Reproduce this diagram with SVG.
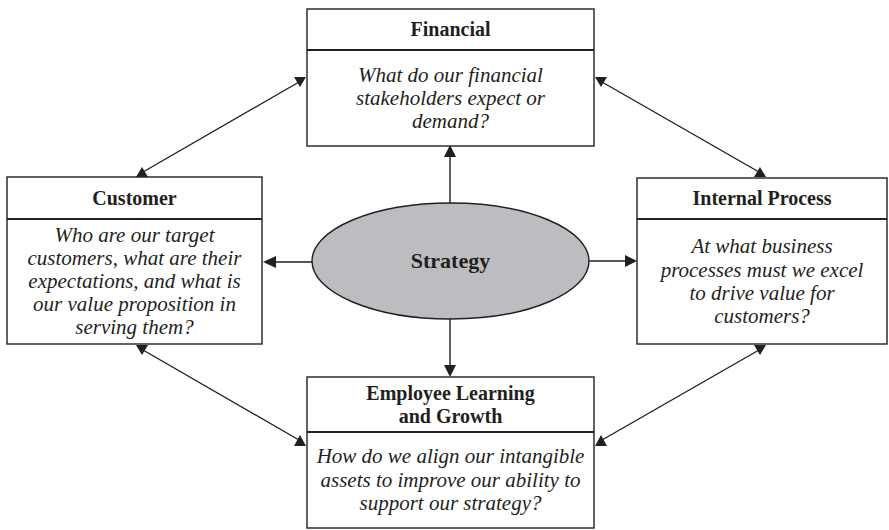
<svg xmlns="http://www.w3.org/2000/svg" width="889" height="530" viewBox="0 0 889 530">
<defs>
<style>
.box{fill:#ffffff;stroke:#231f20;stroke-width:1.4}
.div{stroke:#231f20;stroke-width:2}
.ttl{font-family:"Liberation Serif",serif;font-weight:bold;font-size:20px;fill:#231f20;text-anchor:middle}
.q{font-family:"Liberation Serif",serif;font-style:italic;font-size:21px;fill:#231f20;text-anchor:middle}
.ln{stroke:#231f20;stroke-width:1.4;fill:none}
.ah{fill:#231f20}
</style>
</defs>
<rect width="889" height="530" fill="#ffffff"/>
<g id="connectors">
<line class="ln" x1="450" y1="203" x2="450" y2="155"/>
<polygon class="ah" points="450,145 444,157 456,157"/>
<line class="ln" x1="450" y1="319" x2="450" y2="367"/>
<polygon class="ah" points="450,377 444,365 456,365"/>
<line class="ln" x1="312" y1="262" x2="274" y2="262"/>
<polygon class="ah" points="263,262 276,256 276,268"/>
<line class="ln" x1="589" y1="261" x2="627" y2="261"/>
<polygon class="ah" points="637,261 625,255 625,267"/>
<line class="ln" x1="299" y1="82" x2="143" y2="172"/>
<polygon class="ah" points="300,87 294,77 306,77"/>
<polygon class="ah" points="142,167 136,177 148,177"/>
<line class="ln" x1="602" y1="82" x2="759" y2="172"/>
<polygon class="ah" points="601,87 595,77 607,77"/>
<polygon class="ah" points="760,167 754,177 766,177"/>
<line class="ln" x1="143" y1="350" x2="299" y2="440"/>
<polygon class="ah" points="142,355 136,345 148,345"/>
<polygon class="ah" points="300,435 294,446 306,446"/>
<line class="ln" x1="759" y1="350" x2="602" y2="440"/>
<polygon class="ah" points="760,355 754,345 766,345"/>
<polygon class="ah" points="601,435 595,446 607,446"/>
</g>
<g id="financial">
<rect class="box" x="307" y="9" width="287" height="137"/>
<line class="div" x1="307" y1="50" x2="594" y2="50"/>
<text class="ttl" x="450.5" y="36">Financial</text>
<text class="q" x="450.5" y="82">What do our financial</text>
<text class="q" x="450.5" y="105">stakeholders expect or</text>
<text class="q" x="450.5" y="128">demand?</text>
</g>
<g id="customer">
<rect class="box" x="7" y="177" width="255" height="167"/>
<line class="div" x1="7" y1="219" x2="262" y2="219"/>
<text class="ttl" x="134.5" y="205">Customer</text>
<text class="q" x="134.5" y="242">Who are our target</text>
<text class="q" x="134.5" y="265">customers, what are their</text>
<text class="q" x="134.5" y="288">expectations, and what is</text>
<text class="q" x="134.5" y="311">our value proposition in</text>
<text class="q" x="134.5" y="334">serving them?</text>
</g>
<g id="internal-process">
<rect class="box" x="637" y="178" width="250" height="166"/>
<line class="div" x1="637" y1="219" x2="887" y2="219"/>
<text class="ttl" x="762" y="205">Internal Process</text>
<text class="q" x="762" y="253">At what business</text>
<text class="q" x="762" y="276.5">processes must we excel</text>
<text class="q" x="762" y="300">to drive value for</text>
<text class="q" x="762" y="323">customers?</text>
</g>
<g id="employee">
<rect class="box" x="307" y="377" width="287" height="151"/>
<line class="div" x1="307" y1="432" x2="594" y2="432"/>
<text class="ttl" x="450.5" y="400">Employee Learning</text>
<text class="ttl" x="450.5" y="423">and Growth</text>
<text class="q" x="450.5" y="463">How do we align our intangible</text>
<text class="q" x="450.5" y="486.5">assets to improve our ability to</text>
<text class="q" x="450.5" y="510">support our strategy?</text>
</g>
<g id="strategy">
<ellipse cx="450.5" cy="261" rx="138.5" ry="58" fill="#bcbdc0" stroke="#231f20" stroke-width="1.4"/>
<text class="ttl" x="450.5" y="268" style="font-size:22px">Strategy</text>
</g>
</svg>
